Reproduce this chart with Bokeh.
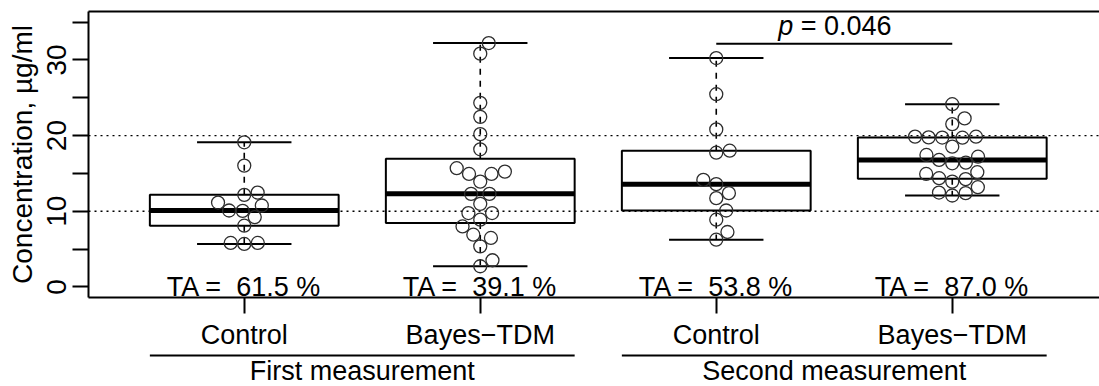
import numpy as np
from bokeh.plotting import figure
from bokeh.layouts import column
from bokeh.models import (Range1d, FixedTicker, LinearAxis, Span, ColumnDataSource)
from bokeh.core.properties import value
from bokeh.embed import file_html
from bokeh.resources import INLINE

# ---------------- data ----------------
positions = [1, 2, 3, 4]
categories = ["Control", "Bayes\u2212TDM", "Control", "Bayes\u2212TDM"]
groups = ["First measurement", "Second measurement"]
group_centers = [1.5, 3.5]
group_starts = [0.6, 2.6]
group_ends = [2.4, 4.4]

control_first = [19.11, 16.03, 12.47, 12.17, 11.15, 10.76, 10.05, 10.10,
                 9.23, 8.09, 5.81, 5.81, 5.68]
bayes_first = [32.23, 30.83, 24.33, 22.48, 20.2, 18.19, 15.24, 14.93, 14.93,
               15.69, 13.92, 12.30, 12.30, 10.98, 9.76, 9.76, 8.88, 7.99,
               6.90, 6.47, 5.36, 3.52, 2.73]
control_second = [30.25, 25.47, 20.82, 17.74, 18.0, 14.14, 13.58, 12.39,
                  11.73, 10.10, 8.88, 7.26, 6.24]
bayes_second = [24.15, 22.27, 21.52, 19.72, 19.74, 19.76, 19.85, 19.86,
                18.53, 17.44, 17.21, 16.78, 16.34, 16.42, 15.16, 14.93,
                14.37, 14.24, 13.92, 13.18, 12.47, 12.39, 12.08]
series = [control_first, bayes_first, control_second, bayes_second]

ta_pct = [61.5, 39.1, 53.8, 87.0]
ta_y = 0
target_lines = [10, 20]
y_ticks = [0, 10, 20, 30]
y_minor_ticks = [5, 15, 25, 35]
p_value = 0.046
p_pair = (3, 4)
p_bracket_y = 32.15
p_text_y = 34.5

# ---------------- layout ----------------
FONT = "Liberation Sans"
W = 1099
H1, H2 = 352, 33
ML, MR, MT, MB = 88, 0, 11, 54
PX_PER_X = 236.0
X0 = 0.34
X1 = X0 + (W - ML - MR) / PX_PER_X
Y0, Y1 = -1.4, 36.4
FRAME_H = H1 - MT - MB
PX_PER_Y = FRAME_H / (Y1 - Y0)

xr = Range1d(X0, X1)
p = figure(width=W, height=H1, x_range=xr, y_range=Range1d(Y0, Y1),
           output_backend="svg", toolbar_location=None,
           x_axis_type=None, y_axis_type=None,
           min_border_left=ML, min_border_right=MR,
           min_border_top=MT, min_border_bottom=MB)
p.outline_line_color = None
p.background_fill_color = "white"
p.border_fill_color = "white"

# axes
yax = LinearAxis(ticker=FixedTicker(ticks=y_ticks, minor_ticks=y_minor_ticks),
                 major_tick_out=16, major_tick_in=0, minor_tick_out=16, minor_tick_in=0,
                 major_tick_line_width=2, minor_tick_line_width=2, axis_line_width=2,
                 major_label_orientation="vertical", major_label_standoff=6,
                 major_label_text_font=FONT, major_label_text_font_size="28px",
                 major_label_text_color="black",
                 axis_label="Concentration, \u00b5g/ml", axis_label_standoff=7,
                 axis_label_text_font=FONT, axis_label_text_font_size="28px",
                 axis_label_text_font_style="normal", axis_label_text_color="black")
p.add_layout(yax, "left")

xax = LinearAxis(ticker=FixedTicker(ticks=positions),
                 major_label_overrides={pos: cat for pos, cat in zip(positions, categories)},
                 major_tick_out=16, major_tick_in=0, minor_tick_out=0, minor_tick_in=0,
                 major_tick_line_width=2, axis_line_width=2, major_label_standoff=6,
                 major_label_text_font=FONT, major_label_text_font_size="27px",
                 major_label_text_color="black")
p.add_layout(xax, "below")

top = LinearAxis(ticker=FixedTicker(ticks=[]), major_tick_out=0, major_tick_in=0,
                 minor_tick_out=0, minor_tick_in=0, major_label_text_font_size="0px",
                 major_label_standoff=0, axis_line_width=2)
p.add_layout(top, "above")

# target dotted lines
for v in target_lines:
    p.add_layout(Span(location=v, dimension="width", line_color="black",
                      line_dash="2 4", line_width=1.3, level="underlay"))


def fivenum(v):
    v = np.sort(np.asarray(v, dtype=float))
    n = len(v)
    n4 = np.floor((n + 3) / 2) / 2
    d = np.array([1, n4, (n + 1) / 2, n + 1 - n4, n]) - 1
    return 0.5 * (v[np.floor(d).astype(int)] + v[np.ceil(d).astype(int)])


def swarm(vals, d_px):
    y = np.asarray(vals, dtype=float) * PX_PER_Y / d_px
    order = np.argsort(y, kind="stable")
    xs = np.zeros(len(y))
    placed = []
    for i in order:
        yi = y[i]
        hits = [j for j in placed if abs(yi - y[j]) < 1]
        if hits:
            offs = [np.sqrt(1 - (yi - y[j]) ** 2) for j in hits]
            cand = [0.0] + [xs[j] + o for j, o in zip(hits, offs)] + \
                   [xs[j] - o for j, o in zip(hits, offs)]
            best = None
            for c in cand:
                bad = any(((yi - y[j]) ** 2 + (c - xs[j]) ** 2) < 0.999 for j in hits)
                if not bad and (best is None or abs(c) < abs(best)):
                    best = c
            xs[i] = best
        placed.append(i)
    return xs * d_px / PX_PER_X


stats = [fivenum(s) for s in series]
box = ColumnDataSource(dict(
    x=positions,
    left=[x - 0.4 for x in positions], right=[x + 0.4 for x in positions],
    sl=[x - 0.2 for x in positions], sr=[x + 0.2 for x in positions],
    lo=[s[0] for s in stats], q1=[s[1] for s in stats], med=[s[2] for s in stats],
    q3=[s[3] for s in stats], hi=[s[4] for s in stats]))

p.segment(x0="x", y0="q3", x1="x", y1="hi", source=box, line_color="black",
          line_width=1.6, line_dash="6 6")
p.segment(x0="x", y0="q1", x1="x", y1="lo", source=box, line_color="black",
          line_width=1.6, line_dash="6 6")
p.segment(x0="sl", y0="hi", x1="sr", y1="hi", source=box, line_color="black", line_width=2)
p.segment(x0="sl", y0="lo", x1="sr", y1="lo", source=box, line_color="black", line_width=2)
p.quad(left="left", right="right", bottom="q1", top="q3", source=box,
       fill_color=None, line_color="black", line_width=2)
p.segment(x0="left", y0="med", x1="right", y1="med", source=box, line_color="black",
          line_width=5, line_cap="butt")

# points (beeswarm)
px, py = [], []
for pos, s in zip(positions, series):
    off = swarm(s, 13.6)
    px.extend(pos + off)
    py.extend(s)
p.scatter(x=px, y=py, marker="circle", size=13, fill_color=None,
          line_color="#2e2e2e", line_width=1.3)

# TA labels
p.text(x=positions, y=[ta_y] * 4,
       text=[f"TA =\u00a0 {v:.1f} %" for v in ta_pct],
       text_font=value(FONT), text_font_size="27px", text_color="black",
       text_align="center", text_baseline="middle")

# p-value bracket
pc = (p_pair[0] + p_pair[1]) / 2
p.segment(x0=[p_pair[0]], y0=[p_bracket_y], x1=[p_pair[1]], y1=[p_bracket_y],
          line_color="black", line_width=2)
p.text(x=[pc], y=[p_text_y], text=["p"], text_font=value(FONT), text_font_size="27px",
       text_font_style="italic", text_align="right", text_baseline="middle",
       x_offset=-41, text_color="black")
p.text(x=[pc], y=[p_text_y], text=[f"\u00a0=\u00a0{p_value}"], text_font=value(FONT),
       text_font_size="27px", text_align="left", text_baseline="middle",
       x_offset=-41, text_color="black")

# ---------------- group labels strip (second figure, shared x range) ----------------
p2 = figure(width=W, height=H2, x_range=xr, y_range=Range1d(0, H2),
            output_backend="svg", toolbar_location=None,
            x_axis_type=None, y_axis_type=None,
            min_border_left=ML, min_border_right=MR,
            min_border_top=0, min_border_bottom=0)
p2.outline_line_color = None
p2.background_fill_color = "white"
p2.border_fill_color = "white"
p2.segment(x0=group_starts, y0=[H2 - 3] * 2, x1=group_ends, y1=[H2 - 3] * 2,
           line_color="black", line_width=2)
p2.text(x=group_centers, y=[H2 - 18.5] * 2, text=groups, text_font=value(FONT),
        text_font_size="27px", text_color="black", text_align="center",
        text_baseline="middle")

layout = column(p, p2, spacing=0)
open("out.html", "w").write(file_html(layout, INLINE))
